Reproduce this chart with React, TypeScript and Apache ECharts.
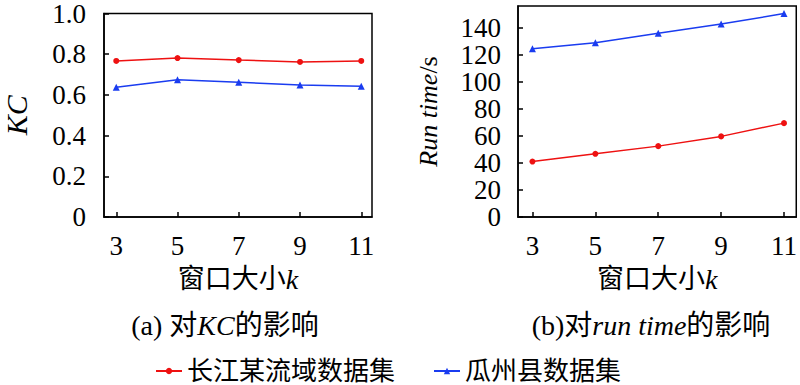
import React, { useEffect, useRef } from "react";
import * as echarts from "echarts";

const windowSizes = [3, 5, 7, 9, 11];
const kcYangtze = [0.767, 0.781, 0.771, 0.762, 0.767];
const kcGuazhou = [0.638, 0.675, 0.662, 0.649, 0.643];
const timeYangtze = [41.0, 46.7, 52.4, 59.6, 69.4];
const timeGuazhou = [124.4, 128.9, 135.8, 142.7, 150.4];
const seriesNames = ["长江某流域数据集", "瓜州县数据集"];
const xAxisName = "窗口大小";

const SERIF = "Liberation Serif, Noto Sans CJK SC, serif";
const RED = "#ee1111";
const BLUE = "#1a3cf0";

export default function App() {
  const ref = useRef<HTMLDivElement>(null);
  useEffect(() => {
    if (!ref.current) return;
    const chart = echarts.init(ref.current, null, { renderer: "svg" });
    const pair = (xs: number[], ys: number[]) => xs.map((x, i) => [x, ys[i]]);
    const xAxisCommon = (gridIndex: number, min: number, max: number) => ({
      type: "value",
      gridIndex,
      min,
      max,
      name: `{cn|${xAxisName}}{it|k}`,
      nameLocation: "middle",
      nameGap: 48,
      nameTextStyle: {
        rich: {
          cn: { fontFamily: SERIF, fontSize: 27, color: "#000" },
          it: { fontFamily: SERIF, fontSize: 28, fontStyle: "italic", color: "#000" },
        },
      },
      splitLine: { show: false },
      axisLine: { lineStyle: { color: "#000", width: 1.5 } },
      axisTick: { inside: true, length: 5, customValues: windowSizes, lineStyle: { color: "#000", width: 1.5 } },
      axisLabel: { customValues: windowSizes, fontFamily: SERIF, fontSize: 27, color: "#000", margin: 15 },
    });
    const yTick = { inside: true, length: 5, lineStyle: { color: "#000", width: 1.5 } };
    chart.setOption({
      animation: false,
      grid: [
        { left: 96, right: 428, top: 12, bottom: 168, show: true, borderColor: "#000", borderWidth: 1.5 },
        { left: 518, right: 2, top: 6, bottom: 168, show: true, borderColor: "#000", borderWidth: 1.5 },
      ],
      xAxis: [xAxisCommon(0, 2.6, 11.35), xAxisCommon(1, 2.54, 11.39)],
      yAxis: [
        {
          type: "value",
          gridIndex: 0,
          min: 0,
          max: 1,
          interval: 0.2,
          name: "KC",
          nameLocation: "middle",
          nameGap: 73,
          nameTextStyle: { fontFamily: SERIF, fontSize: 30, fontStyle: "italic", color: "#000" },
          splitLine: { show: false },
          axisLine: { lineStyle: { color: "#000", width: 1.5 } },
          axisTick: yTick,
          axisLabel: {
            fontFamily: SERIF,
            fontSize: 27,
            color: "#000",
            margin: 18,
            formatter: (v: number) => (v === 0 ? "0" : v.toFixed(1)),
          },
        },
        {
          type: "value",
          gridIndex: 1,
          min: 0,
          max: 156,
          interval: 20,
          name: "{it|Run time}{n|/s}",
          nameLocation: "middle",
          nameGap: 77,
          nameTextStyle: {
            rich: {
              it: { fontFamily: SERIF, fontSize: 26, fontStyle: "italic", color: "#000" },
              n: { fontFamily: SERIF, fontSize: 26, color: "#000" },
            },
          },
          splitLine: { show: false },
          axisLine: { lineStyle: { color: "#000", width: 1.5 } },
          axisTick: yTick,
          axisLabel: { fontFamily: SERIF, fontSize: 27, color: "#000", margin: 17, showMaxLabel: false },
        },
      ],
      legend: {
        top: 358,
        left: 155,
        padding: 0,
        itemGap: 38,
        itemWidth: 26,
        itemHeight: 8,
        textStyle: { fontFamily: SERIF, fontSize: 26, lineHeight: 26, color: "#000" },
        data: seriesNames,
      },
      series: [
        {
          name: seriesNames[0],
          type: "line",
          xAxisIndex: 0,
          yAxisIndex: 0,
          data: pair(windowSizes, kcYangtze),
          symbol: "circle",
          symbolSize: 6,
          color: RED,
          lineStyle: { width: 1.5 },
        },
        {
          name: seriesNames[1],
          type: "line",
          xAxisIndex: 0,
          yAxisIndex: 0,
          data: pair(windowSizes, kcGuazhou),
          symbol: "triangle",
          symbolSize: 7,
          color: BLUE,
          lineStyle: { width: 1.5 },
        },
        {
          name: seriesNames[0],
          type: "line",
          xAxisIndex: 1,
          yAxisIndex: 1,
          data: pair(windowSizes, timeYangtze),
          symbol: "circle",
          symbolSize: 6,
          color: RED,
          lineStyle: { width: 1.5 },
        },
        {
          name: seriesNames[1],
          type: "line",
          xAxisIndex: 1,
          yAxisIndex: 1,
          data: pair(windowSizes, timeGuazhou),
          symbol: "triangle",
          symbolSize: 7,
          color: BLUE,
          lineStyle: { width: 1.5 },
        },
      ],
      graphic: [
        {
          type: "text",
          x: 225,
          y: 325,
          style: {
            text: "{n|(a) 对}{it|KC}{n|的影响}",
            align: "center",
            verticalAlign: "middle",
            rich: {
              n: { fontFamily: SERIF, fontSize: 28, fill: "#000" },
              it: { fontFamily: SERIF, fontSize: 28, fontStyle: "italic", fill: "#000" },
            },
          },
        },
        {
          type: "text",
          x: 651,
          y: 325,
          style: {
            text: "{n|(b)对}{it|run time}{n|的影响}",
            align: "center",
            verticalAlign: "middle",
            rich: {
              n: { fontFamily: SERIF, fontSize: 28, fill: "#000" },
              it: { fontFamily: SERIF, fontSize: 28, fontStyle: "italic", fill: "#000" },
            },
          },
        },
      ],
    });
    return () => chart.dispose();
  }, []);
  return <div ref={ref} style={{ position: "absolute", left: 0, top: 0, width: 800, height: 385 }} />;
}
